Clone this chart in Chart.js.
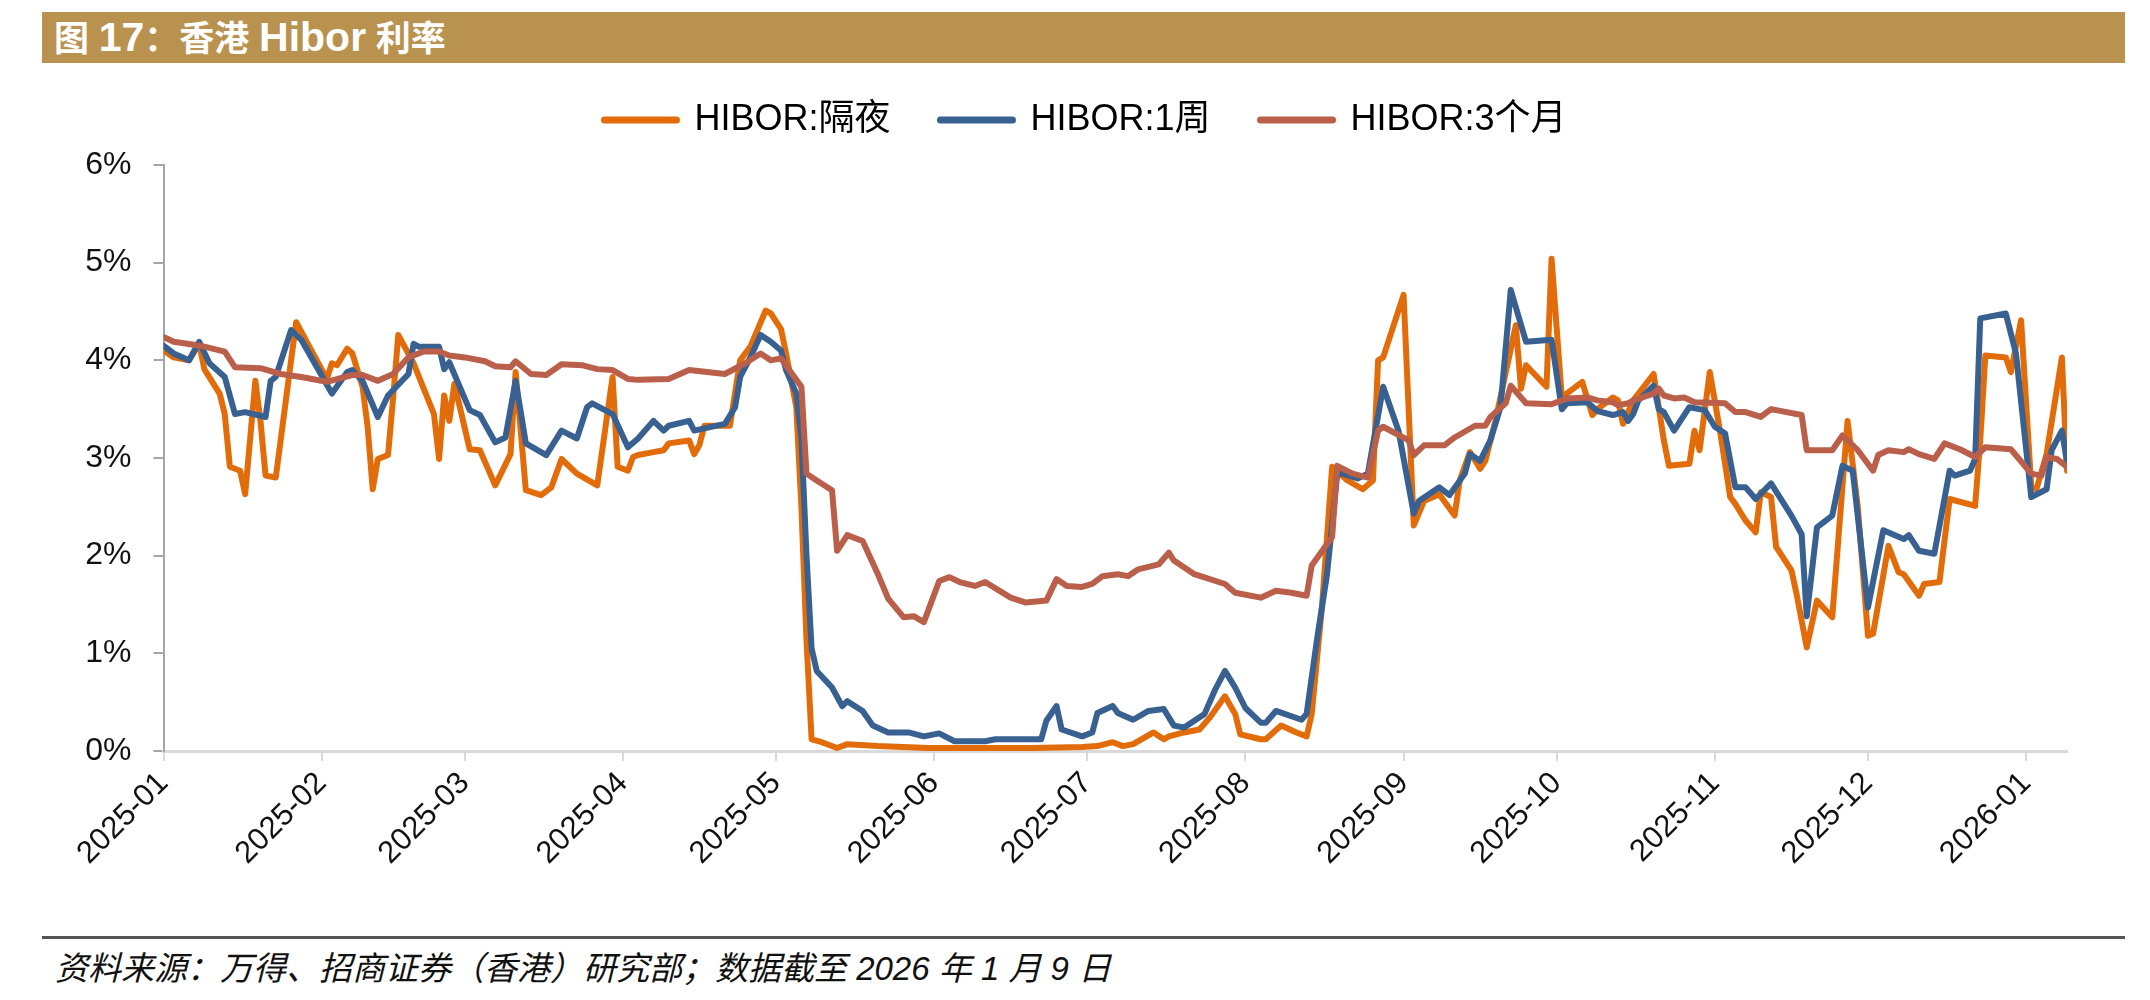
<!DOCTYPE html>
<html>
<head>
<meta charset="utf-8">
<script src="https://cdn.jsdelivr.net/npm/chart.js@4.4.1/dist/chart.umd.min.js"></script>
<style>
  html, body { margin: 0; padding: 0; background: #fff; }
  body { width: 2150px; height: 1000px; position: relative; overflow: hidden; }
  .titlebar {
    position: absolute; left: 42px; top: 12px; width: 2083px; height: 51px;
    background: #B9924F; color: #fff;
    font: bold 35px "Liberation Sans", "Noto Sans CJK SC", sans-serif;
    line-height: 51px; padding-left: 12px; box-sizing: border-box; white-space: pre;
  }
  .titlebar .lat { font-size: 41px; }
  .wrap { position: absolute; left: 0; top: 52px; width: 2150px; height: 819px; }
  .rule { position: absolute; left: 42px; top: 936px; width: 2083px; height: 3px; background: #555; }
  .source {
    position: absolute; left: 55px; top: 942px; line-height: 46px; white-space: pre;
    font: italic 33px "Liberation Sans", "Noto Sans CJK SC", sans-serif; color: #111;
  }
</style>
</head>
<body>
<div class="titlebar">图 <span class="lat">17</span>：香港 <span class="lat">Hibor</span> 利率</div>
<div class="wrap"><canvas id="myChart"></canvas></div>
<div class="rule"></div>
<div class="source">资料来源：万得、招商证券（香港）研究部；数据截至 2026 年 1 月 9 日</div>
<script>
let tickLabels = ['2025-01','2025-02','2025-03','2025-04','2025-05','2025-06','2025-07',
  '2025-08','2025-09','2025-10','2025-11','2025-12','2026-01'];
let yTicks = [0, 1, 2, 3, 4, 5, 6];
let seriesNames = ['HIBOR:隔夜', 'HIBOR:1周', 'HIBOR:3个月'];

// HIBOR 隔夜
let onDates = ['2025-01-01','2025-01-03','2025-01-06','2025-01-08','2025-01-09','2025-01-12','2025-01-13','2025-01-14',
  '2025-01-16','2025-01-17','2025-01-18','2025-01-19','2025-01-20','2025-01-21','2025-01-23','2025-01-26','2025-01-27',
  '2025-02-02','2025-02-03','2025-02-04','2025-02-06','2025-02-07','2025-02-09','2025-02-10','2025-02-11','2025-02-12',
  '2025-02-14','2025-02-15','2025-02-16','2025-02-19','2025-02-23','2025-02-24','2025-02-25','2025-02-26','2025-02-27',
  '2025-03-02','2025-03-04','2025-03-07','2025-03-10','2025-03-11','2025-03-13','2025-03-16','2025-03-18','2025-03-20',
  '2025-03-23','2025-03-27','2025-03-30','2025-03-31','2025-04-02','2025-04-03','2025-04-04','2025-04-07','2025-04-09',
  '2025-04-10','2025-04-14','2025-04-15','2025-04-16','2025-04-17','2025-04-22','2025-04-24','2025-04-26','2025-04-29',
  '2025-04-30','2025-05-02','2025-05-03','2025-05-05','2025-05-06','2025-05-07','2025-05-08','2025-05-10','2025-05-13',
  '2025-05-15','2025-05-21','2025-05-31','2025-06-10','2025-06-20','2025-06-30','2025-07-03','2025-07-06','2025-07-08',
  '2025-07-10','2025-07-14','2025-07-16','2025-07-17','2025-07-20','2025-07-23','2025-07-25','2025-07-28','2025-07-30',
  '2025-07-31','2025-08-04','2025-08-05','2025-08-08','2025-08-11','2025-08-13','2025-08-14','2025-08-16','2025-08-18',
  '2025-08-21','2025-08-24','2025-08-26','2025-08-27','2025-08-28','2025-09-01','2025-09-03','2025-09-05','2025-09-08',
  '2025-09-11','2025-09-12','2025-09-14','2025-09-16','2025-09-17','2025-09-19','2025-09-23','2025-09-24','2025-09-25',
  '2025-09-29','2025-09-30','2025-10-02','2025-10-06','2025-10-08','2025-10-09','2025-10-12','2025-10-13','2025-10-14',
  '2025-10-16','2025-10-20','2025-10-22','2025-10-23','2025-10-27','2025-10-28','2025-10-29','2025-10-31','2025-11-02',
  '2025-11-04','2025-11-05','2025-11-07','2025-11-09','2025-11-10','2025-11-12','2025-11-13','2025-11-16','2025-11-17',
  '2025-11-19','2025-11-21','2025-11-24','2025-11-27','2025-11-29','2025-12-01','2025-12-02','2025-12-05','2025-12-07',
  '2025-12-08','2025-12-11','2025-12-12','2025-12-15','2025-12-17','2025-12-22','2025-12-23','2025-12-24','2025-12-28',
  '2025-12-29','2025-12-31','2026-01-02','2026-01-03','2026-01-05','2026-01-08','2026-01-09'];
let onValues = [4.10,4.03,4.00,4.17,3.91,3.66,3.45,2.91,
  2.87,2.63,3.21,3.79,3.38,2.82,2.80,4.00,4.39,
  3.81,3.97,3.95,4.12,4.07,3.73,3.32,2.68,2.99,
  3.03,3.62,4.26,3.97,3.45,2.99,3.64,3.38,3.76,
  3.09,3.08,2.72,3.04,3.88,2.67,2.62,2.70,2.99,
  2.84,2.72,3.83,2.91,2.87,3.01,3.03,3.06,3.08,
  3.15,3.18,3.04,3.13,3.33,3.33,4.00,4.14,4.51,
  4.48,4.32,4.07,3.52,2.50,1.13,0.12,0.09,0.03,
  0.07,0.05,0.03,0.03,0.03,0.04,0.05,0.09,0.05,
  0.07,0.19,0.12,0.15,0.19,0.22,0.34,0.56,0.38,
  0.17,0.12,0.12,0.26,0.19,0.15,0.38,1.47,2.91,
  2.77,2.68,2.77,4.00,4.03,4.67,2.31,2.56,2.63,
  2.41,2.77,3.06,2.89,2.97,3.38,4.36,3.71,3.95,
  3.73,5.04,3.62,3.78,3.44,3.50,3.62,3.59,3.35,
  3.59,3.86,3.18,2.92,2.94,3.28,3.08,3.88,3.28,
  2.60,2.53,2.36,2.24,2.65,2.60,2.09,1.85,1.61,
  1.06,1.54,1.37,3.38,2.50,1.18,1.20,2.10,1.83,
  1.81,1.59,1.71,1.73,2.58,2.51,3.18,4.05,4.03,
  3.88,4.41,2.70,2.68,3.04,4.03,2.87];

// HIBOR 1周
let w1Dates = ['2025-01-01','2025-01-03','2025-01-06','2025-01-08','2025-01-10','2025-01-13','2025-01-15','2025-01-17',
  '2025-01-21','2025-01-22','2025-01-23','2025-01-26','2025-01-28','2025-02-03','2025-02-06','2025-02-07','2025-02-09',
  '2025-02-12','2025-02-14','2025-02-18','2025-02-19','2025-02-20','2025-02-24','2025-02-25','2025-02-26','2025-03-02',
  '2025-03-04','2025-03-07','2025-03-09','2025-03-11','2025-03-13','2025-03-17','2025-03-20','2025-03-23','2025-03-25',
  '2025-03-26','2025-03-30','2025-04-02','2025-04-04','2025-04-07','2025-04-09','2025-04-10','2025-04-14','2025-04-15',
  '2025-04-21','2025-04-23','2025-04-24','2025-04-26','2025-04-28','2025-04-30','2025-05-02','2025-05-03','2025-05-05',
  '2025-05-06','2025-05-07','2025-05-08','2025-05-09','2025-05-12','2025-05-14','2025-05-15','2025-05-18','2025-05-20',
  '2025-05-23','2025-05-27','2025-05-30','2025-06-02','2025-06-05','2025-06-11','2025-06-13','2025-06-22','2025-06-23',
  '2025-06-25','2025-06-26','2025-06-30','2025-07-02','2025-07-03','2025-07-06','2025-07-07','2025-07-10','2025-07-13',
  '2025-07-16','2025-07-18','2025-07-20','2025-07-22','2025-07-24','2025-07-26','2025-07-28','2025-07-30','2025-08-01',
  '2025-08-04','2025-08-05','2025-08-07','2025-08-12','2025-08-13','2025-08-15','2025-08-17','2025-08-19','2025-08-20',
  '2025-08-23','2025-08-25','2025-08-28','2025-08-31','2025-09-03','2025-09-04','2025-09-08','2025-09-10','2025-09-13',
  '2025-09-14','2025-09-16','2025-09-18','2025-09-20','2025-09-22','2025-09-25','2025-09-30','2025-10-02','2025-10-03',
  '2025-10-07','2025-10-09','2025-10-12','2025-10-14','2025-10-15','2025-10-16','2025-10-17','2025-10-20','2025-10-21',
  '2025-10-22','2025-10-24','2025-10-27','2025-10-30','2025-11-01','2025-11-03','2025-11-05','2025-11-07','2025-11-09',
  '2025-11-12','2025-11-16','2025-11-18','2025-11-19','2025-11-21','2025-11-24','2025-11-26','2025-11-28','2025-12-01',
  '2025-12-04','2025-12-08','2025-12-09','2025-12-11','2025-12-14','2025-12-17','2025-12-18','2025-12-21','2025-12-22',
  '2025-12-23','2025-12-28','2025-12-30','2026-01-02','2026-01-05','2026-01-06','2026-01-08','2026-01-09'];
let w1Values = [4.15,4.07,4.00,4.19,3.97,3.83,3.45,3.47,
  3.42,3.79,3.83,4.31,4.21,3.66,3.88,3.90,3.79,
  3.42,3.64,3.86,4.17,4.14,4.14,3.91,3.98,3.49,
  3.44,3.16,3.21,3.79,3.15,3.03,3.28,3.20,3.52,
  3.56,3.45,3.11,3.20,3.38,3.28,3.33,3.38,3.28,
  3.35,3.52,3.83,4.03,4.26,4.19,4.10,3.90,3.66,
  3.20,2.00,1.05,0.82,0.65,0.46,0.51,0.41,0.26,
  0.19,0.19,0.15,0.18,0.10,0.10,0.12,0.12,0.31,
  0.46,0.22,0.15,0.19,0.39,0.46,0.39,0.32,0.41,
  0.43,0.26,0.24,0.31,0.38,0.62,0.82,0.65,0.44,
  0.29,0.29,0.41,0.32,0.38,1.13,1.81,2.84,2.84,
  2.79,2.84,3.73,3.28,2.43,2.56,2.70,2.62,2.84,
  3.04,2.97,3.18,3.52,4.72,4.19,4.21,3.50,3.56,
  3.57,3.48,3.44,3.47,3.38,3.45,3.59,3.74,3.50,
  3.47,3.28,3.52,3.49,3.32,3.25,2.70,2.70,2.58,
  2.74,2.41,2.22,1.38,2.29,2.41,2.92,2.87,1.47,
  2.26,2.17,2.21,2.05,2.02,2.87,2.82,2.87,2.99,
  4.43,4.48,4.07,2.60,2.68,3.08,3.28,2.96];

// HIBOR 3个月
let m3Dates = ['2025-01-01','2025-01-03','2025-01-07','2025-01-09','2025-01-13','2025-01-15','2025-01-20','2025-01-24',
  '2025-01-28','2025-02-02','2025-02-07','2025-02-09','2025-02-12','2025-02-15','2025-02-18','2025-02-21','2025-02-24',
  '2025-02-26','2025-03-01','2025-03-05','2025-03-07','2025-03-10','2025-03-11','2025-03-14','2025-03-17','2025-03-20',
  '2025-03-24','2025-03-27','2025-03-30','2025-04-02','2025-04-04','2025-04-10','2025-04-14','2025-04-21','2025-04-25',
  '2025-04-28','2025-04-30','2025-05-02','2025-05-06','2025-05-07','2025-05-09','2025-05-12','2025-05-13','2025-05-15',
  '2025-05-18','2025-05-21','2025-05-23','2025-05-26','2025-05-28','2025-05-30','2025-06-02','2025-06-04','2025-06-06',
  '2025-06-09','2025-06-11','2025-06-16','2025-06-19','2025-06-23','2025-06-25','2025-06-27','2025-06-30','2025-07-02',
  '2025-07-04','2025-07-07','2025-07-09','2025-07-11','2025-07-15','2025-07-17','2025-07-18','2025-07-22','2025-07-28',
  '2025-07-30','2025-08-04','2025-08-07','2025-08-10','2025-08-13','2025-08-14','2025-08-18','2025-08-19','2025-08-22',
  '2025-08-25','2025-08-27','2025-08-28','2025-09-02','2025-09-03','2025-09-05','2025-09-09','2025-09-11','2025-09-15',
  '2025-09-17','2025-09-18','2025-09-21','2025-09-22','2025-09-25','2025-09-30','2025-10-03','2025-10-07','2025-10-09',
  '2025-10-12','2025-10-13','2025-10-15','2025-10-16','2025-10-20','2025-10-21','2025-10-22','2025-10-24','2025-10-26',
  '2025-10-28','2025-11-03','2025-11-05','2025-11-07','2025-11-10','2025-11-12','2025-11-18','2025-11-19','2025-11-24',
  '2025-11-26','2025-11-29','2025-12-02','2025-12-03','2025-12-05','2025-12-08','2025-12-09','2025-12-11','2025-12-14',
  '2025-12-16','2025-12-19','2025-12-22','2025-12-24','2025-12-29','2026-01-02','2026-01-04','2026-01-05','2026-01-07',
  '2026-01-09'];
let m3Values = [4.24,4.19,4.16,4.14,4.09,3.93,3.92,3.86,
  3.83,3.78,3.85,3.85,3.79,3.86,4.03,4.09,4.09,
  4.05,4.03,3.99,3.94,3.93,3.99,3.86,3.85,3.96,
  3.95,3.91,3.90,3.81,3.80,3.81,3.90,3.86,3.97,
  4.07,4.00,4.02,3.73,2.84,2.77,2.67,2.05,2.21,
  2.15,1.81,1.56,1.37,1.38,1.32,1.74,1.78,1.73,
  1.69,1.73,1.57,1.52,1.54,1.76,1.69,1.68,1.71,
  1.79,1.81,1.79,1.86,1.91,2.03,1.95,1.81,1.71,
  1.62,1.57,1.64,1.62,1.59,1.90,2.19,2.92,2.84,
  2.80,3.28,3.32,3.18,3.03,3.13,3.13,3.21,3.33,
  3.33,3.42,3.56,3.74,3.56,3.55,3.61,3.62,3.59,
  3.57,3.54,3.56,3.59,3.66,3.71,3.64,3.61,3.62,
  3.57,3.56,3.47,3.47,3.42,3.50,3.44,3.08,3.08,
  3.23,3.08,2.87,3.03,3.08,3.06,3.09,3.04,2.99,
  3.15,3.09,3.01,3.11,3.09,2.84,2.82,3.01,2.99,
  2.91];

let lastDate = '2026-01-09';

function dayIndex(s) {
  let p = s.split('-').map(Number);
  return (Date.UTC(p[0], p[1] - 1, p[2] || 1) - Date.UTC(2025, 0, 1)) / 86400000;
}

function points(dates, values) {
  return dates.map((d, i) => ({ x: dayIndex(d), y: values[i] }));
}

let fontFamily = '"Liberation Sans", "Noto Sans CJK SC", sans-serif';

// extra room under the legend, and nudge it right to sit where the original does
let legendPlace = {
  id: 'legendPlace',
  beforeInit(chart) {
    let fit = chart.legend.fit;
    chart.legend.fit = function () {
      fit.call(this);
      this.height += 17;
    };
  },
  afterLayout(chart) {
    chart.legend.left += 52;
    chart.legend.right += 52;
  }
};

function chartData(ctx) {
  return new Chart(ctx, {
    type: 'line',
    data: {
      datasets: [
        { label: seriesNames[0], data: points(onDates, onValues), borderColor: '#E36C0A', order: 3 },
        { label: seriesNames[1], data: points(w1Dates, w1Values), borderColor: '#386192', order: 2 },
        { label: seriesNames[2], data: points(m3Dates, m3Values), borderColor: '#B95F4A', order: 1 }
      ]
    },
    plugins: [legendPlace],
    options: {
      responsive: true,
      maintainAspectRatio: false,
      animation: false,
      layout: { padding: { top: 0, right: 83, left: 0, bottom: 0 } },
      elements: {
        line: { borderWidth: 6, tension: 0, borderJoinStyle: 'round', borderCapStyle: 'round', fill: false },
        point: { radius: 0, hoverRadius: 0 }
      },
      plugins: {
        tooltip: { enabled: false },
        legend: {
          position: 'top',
          labels: {
            usePointStyle: true,
            pointStyleWidth: 72,
            padding: 50,
            color: '#111',
            font: { family: fontFamily, size: 36 },
            sort: (a, b) => a.datasetIndex - b.datasetIndex,
            generateLabels: (chart) => chart.data.datasets.map((ds, i) => ({
              text: ds.label,
              datasetIndex: i,
              pointStyle: 'line',
              strokeStyle: ds.borderColor,
              fillStyle: ds.borderColor,
              lineWidth: 7,
              lineCap: 'round',
              hidden: false
            }))
          }
        }
      },
      scales: {
        x: {
          type: 'linear',
          min: 0,
          max: dayIndex(lastDate),
          afterBuildTicks: (s) => { s.ticks = tickLabels.map(t => ({ value: dayIndex(t + '-01') })); },
          afterFit: (s) => { s.height = 120; },
          ticks: {
            autoSkip: false,
            maxRotation: 45,
            minRotation: 45,
            color: '#111',
            font: { family: fontFamily, size: 31 },
            padding: 4,
            callback: (v) => tickLabels[tickLabels.findIndex(t => dayIndex(t + '-01') === v)]
          },
          grid: { drawOnChartArea: false, drawTicks: true, tickLength: 10, color: '#D9D9D9', lineWidth: 2 },
          border: { color: '#D9D9D9', width: 3 }
        },
        y: {
          min: 0,
          max: 6,
          afterBuildTicks: (s) => { s.ticks = yTicks.map(v => ({ value: v })); },
          afterFit: (s) => { s.width = 163.5; },
          ticks: {
            color: '#111',
            font: { family: fontFamily, size: 32 },
            padding: 22,
            callback: (v) => v + '%'
          },
          grid: { drawOnChartArea: false, drawTicks: true, tickLength: 10, color: '#A6A6A6', lineWidth: 2 },
          border: { color: '#A6A6A6', width: 2 }
        }
      }
    }
  });
}

chartData(document.getElementById('myChart').getContext('2d'));
</script>
</body>
</html>
